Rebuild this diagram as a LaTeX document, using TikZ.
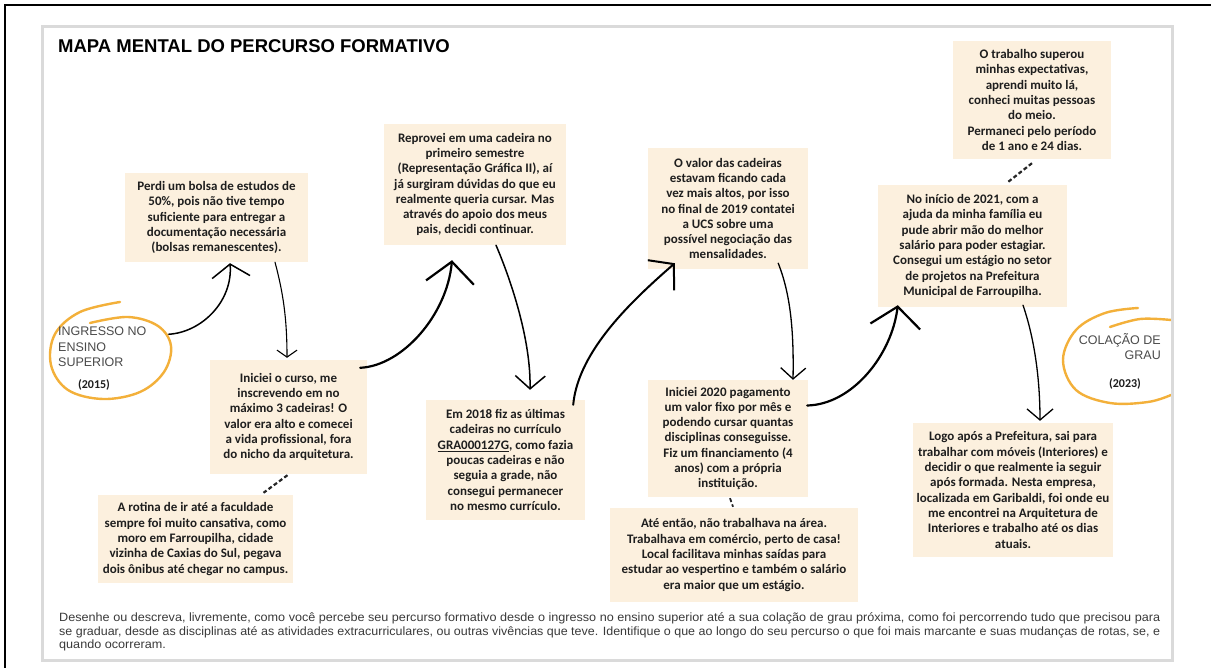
\documentclass[tikz,border=0pt]{standalone}
\usepackage{fontspec}
\setmainfont{Liberation Sans}
\newfontfamily\boxfont{Carlito}
\usetikzlibrary{arrows.meta,calc,shapes.geometric}

\definecolor{cream}{HTML}{FCF0DE}
\definecolor{ringorange}{HTML}{F3B03A}
\definecolor{cardline}{HTML}{DADADA}
\definecolor{ink}{HTML}{1E1E1E}
\definecolor{ringtext}{HTML}{4A4A4A}
\definecolor{prompttext}{HTML}{3A3A3A}

\newsavebox\promptline
\newlength\promptwd

\tikzset{
  note/.style={fill=cream, inner sep=0pt, align=center, text=ink,
    font=\boxfont\bfseries\fontsize{13}{15.3}\selectfont},
  ringlabel/.style={inner sep=0pt, text=ringtext,
    font=\fontsize{12.5}{15.3}\selectfont},
  yearlabel/.style={inner sep=0pt, text=ink,
    font=\boxfont\bfseries\fontsize{12}{14}\selectfont},
  ringarea/.style={ellipse, inner sep=0pt, draw=none},
  ringstroke/.style={draw=ringorange, line width=2.4pt, line cap=round},
  flow/.style={draw=black, line cap=round},
  dashlink/.style={draw=black!85, line width=2.2pt, dash pattern=on 4pt off 2.5pt},
  prompt/.style={inner sep=0pt, text=prompttext, anchor=base west,
    font=\fontsize{12}{14}\selectfont}
}

\begin{document}
% width of the first prompt line, used to condense the last one alike
\sbox\promptline{\fontsize{12}{14}\selectfont Desenhe ou descreva, livremente, como você percebe seu percurso formativo desde o ingresso no ensino superior até a sua colação de grau próxima, como foi percorrendo tudo que precisou para}%
\setlength\promptwd{\wd\promptline}%
\pgfmathsetmacro\promptscale{1101/\promptwd}%
\begin{tikzpicture}[x=1pt, y=-1pt]
\useasboundingbox (0,0) rectangle (1211,668);
\fill[white] (0,0) rectangle (1211,668);

% outer frame edges
\draw[line width=2.5pt] (5,668) -- (5,5) -- (1211,5);

% card
\fill[white] (42,27) rectangle (1172,660);

% title
\node[anchor=base west, inner sep=0pt, font=\bfseries\fontsize{18.5}{20}\selectfont] (title) at (58,53) {MAPA MENTAL DO PERCURSO FORMATIVO};

% ---- start ring ----
\node[ringarea, minimum width=124pt, minimum height=96pt] (ingring) at (110,350) {};
\draw[ringstroke] plot[smooth, tension=0.6] coordinates {(120,302) (80,312) (55,334) (51,365) (68,390) (103,399) (140,392) (164,372) (171,346) (158,326) (128,317) (90,323)};
\node[ringlabel, anchor=base west, align=left] (ingresso) at (58,366.5) {INGRESSO NO\\ENSINO\\SUPERIOR};
\node[yearlabel] (ingyear) at (94,385) {(2015)};

% ---- end ring ----
\node[ringarea, minimum width=116pt, minimum height=96pt] (colring) at (1118,357) {};
\draw[ringstroke] plot[smooth, tension=0.6] coordinates {(1138,308) (1105,313) (1076,330) (1063,360) (1076,390) (1110,403) (1148,402) (1171,395)};
\draw[ringstroke] plot[smooth, tension=0.6] coordinates {(1110,327) (1140,319) (1171,320)};
\node[ringlabel, anchor=base east, align=right] (colacao) at (1161,359.5) {COLAÇÃO DE\\GRAU};
\node[yearlabel] (colyear) at (1125,384) {(2023)};

% ---- notes ----
\node[note, minimum width=183pt, minimum height=89pt] (b1) at (216.5,217.5)
  {Perdi um bolsa de estudos de\\50\%, pois não tive tempo\\suficiente para entregar a\\documentação necessária\\(bolsas remanescentes).};
\node[note, minimum width=182pt, minimum height=121pt] (b2) at (475,184.5)
  {Reprovei em uma cadeira no\\primeiro semestre\\(Representação Gráfica II), aí\\já surgiram dúvidas do que eu\\realmente queria cursar. Mas\\através do apoio dos meus\\pais, decidi continuar.};
\node[note, minimum width=160pt, minimum height=121pt] (b3) at (728,208.5)
  {O valor das cadeiras\\estavam ficando cada\\vez mais altos, por isso\\no final de 2019 contatei\\a UCS sobre uma\\possível negociação das\\mensalidades.};
\node[note, minimum width=158pt, minimum height=118pt] (b4) at (1032,100)
  {O trabalho superou\\minhas expectativas,\\aprendi muito lá,\\conheci muitas pessoas\\do meio.\\Permaneci pelo período\\de 1 ano e 24 dias.};
\node[note, minimum width=189pt, minimum height=122pt] (b5) at (972.5,246)
  {No início de 2021, com a\\ajuda da minha família eu\\pude abrir mão do melhor\\salário para poder estagiar.\\Consegui um estágio no setor\\de projetos na Prefeitura\\Municipal de Farroupilha.};
\node[note, minimum width=157pt, minimum height=114pt] (b6) at (288.5,417)
  {Iniciei o curso, me\\inscrevendo em no\\máximo 3 cadeiras! O\\valor era alto e comecei\\a vida profissional, fora\\do nicho da arquitetura.};
\node[note, minimum width=195pt, minimum height=88pt] (b7) at (195.5,539)
  {A rotina de ir até a faculdade\\sempre foi muito cansativa, como\\moro em Farroupilha, cidade\\vizinha de Caxias do Sul, pegava\\dois ônibus até chegar no campus.};
\node[note, minimum width=159pt, minimum height=120pt] (b8) at (505.5,460)
  {Em 2018 fiz as últimas\\cadeiras no currículo\\\underline{GRA000127G}, como fazia\\poucas cadeiras e não\\seguia a grade, não\\consegui permanecer\\no mesmo currículo.};
\node[note, minimum width=160pt, minimum height=117pt] (b9) at (728,438.5)
  {Iniciei 2020 pagamento\\um valor fixo por mês e\\podendo cursar quantas\\disciplinas conseguisse.\\Fiz um financiamento (4\\anos) com a própria\\instituição.};
\node[note, minimum width=248pt, minimum height=94pt] (b10) at (734,555)
  {Até então, não trabalhava na área.\\Trabalhava em comércio, perto de casa!\\Local facilitava minhas saídas para\\estudar ao vespertino e também o salário\\era maior que um estágio.};
\node[note, minimum width=200pt, minimum height=134pt] (b11) at (1013,490)
  {Logo após a Prefeitura, sai para\\trabalhar com móveis (Interiores) e\\decidir o que realmente ia seguir\\após formada. Nesta empresa,\\localizada em Garibaldi, foi onde eu\\me encontrei na Arquitetura de\\Interiores e trabalho até os dias\\atuais.};

% ---- hand-drawn flow arrows ----
\draw[flow, line width=1.5pt, -{Straight Barb[length=13pt,width=38pt]}]
  (ingring.15) .. controls +(33,-2) and +(3,38) .. ($(b1.south)+(13.5,1)$);
\draw[flow, line width=1.1pt, -{Straight Barb[length=7pt,width=20pt]}]
  ($(b1.south)+(58.5,0)$) .. controls +(8,30) and +(0,-40) .. ($(b6.north)+(-1.5,-2)$);
\draw[flow, line width=2.2pt, -{Straight Barb[length=21pt,width=48pt]}]
  ($(b6.north east)+(-7,8)$) .. controls +(42,-2) and +(-5,55) .. ($(b2.south)+(-23,15)$);
\draw[flow, line width=1.5pt, -{Straight Barb[length=13pt,width=30pt]}]
  ($(b2.south)+(21,0)$) .. controls +(15,35) and +(1,-50) .. ($(b8.north)+(24.5,-10)$);
\draw[flow, line width=2pt, -{Straight Barb[length=17pt,width=40pt]}]
  ($(b8.north east)+(-12,5)$) .. controls +(5,-55) and +(-40,35) .. ($(b3.south west)+(27,-6)$);
\draw[flow, line width=1.3pt, -{Straight Barb[length=11pt,width=25pt]}]
  ($(b3.south east)+(-30,-6)$) .. controls +(12,30) and +(1,-50) .. ($(b9.north)+(65,0)$);
\draw[flow, line width=2.2pt, -{Straight Barb[length=20pt,width=50pt]}]
  ($(b9.east)+(-1,-33)$) .. controls +(45,-1) and +(-6,50) .. ($(b5.south west)+(20,-2)$);
\draw[flow, line width=1.3pt, -{Straight Barb[length=11pt,width=26pt]}]
  ($(b5.south)+(50.5,-2)$) .. controls +(12,35) and +(0,-40) .. ($(b11.north)+(27,-2)$);

% ---- dashed links ----
\draw[dashlink] ($(b6.south)+(-1,1)$) -- ($(b7.north)+(68,-2)$);
\draw[dashlink, line width=1.8pt] ($(b9.south)+(2,1)$) -- ($(b10.north)+(-1,-1)$);
\draw[dashlink] ($(b4.south)+(0,4)$) -- ($(b5.north)+(34.5,-2)$);

% ---- prompt under the map ----
\node[prompt] (p1) at (59,621) {\resizebox{1101pt}{\height}{Desenhe ou descreva, livremente, como você percebe seu percurso formativo desde o ingresso no ensino superior até a sua colação de grau próxima, como foi percorrendo tudo que precisou para}};
\node[prompt] (p2) at (59,635) {\resizebox{1101pt}{\height}{se graduar, desde as disciplinas até as atividades extracurriculares, ou outras vivências que teve. Identifique o que ao longo do seu percurso o que foi mais marcante e suas mudanças de rotas, se, e}};
\node[prompt] (p3) at (59,648.5) {\scalebox{\promptscale}[1]{quando ocorreram.}};

% card border on top
\draw[cardline, line width=3pt] (42,27) rectangle (1172,660);
\end{tikzpicture}
\end{document}
